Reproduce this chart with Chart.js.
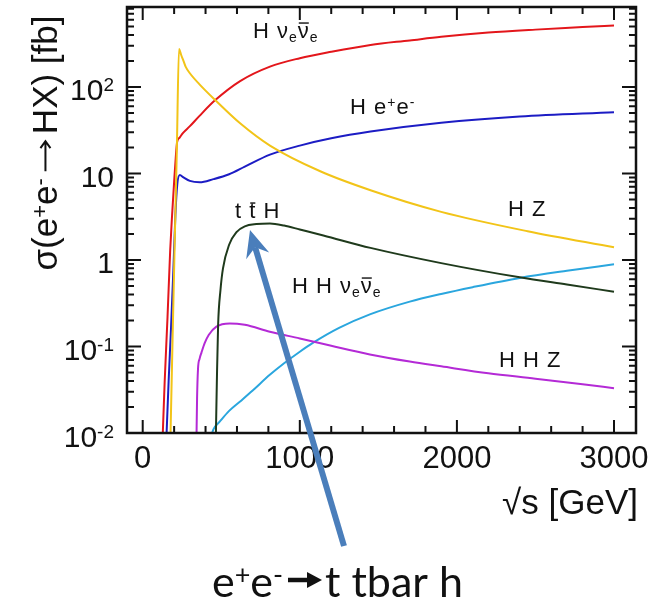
<!DOCTYPE html>
<html>
<head>
<meta charset="utf-8">
<script src="https://cdn.jsdelivr.net/npm/chart.js@4.4.1/dist/chart.umd.min.js"></script>
<style>
  html, body { margin: 0; padding: 0; background: #fff; }
  canvas { display: block; }
</style>
</head>
<body>
<canvas id="xsec" width="657" height="605"></canvas>
<script>
// sqrt(s) in GeV, cross sections in fb
const hvvX = [126, 140, 158, 175, 187, 200, 210, 219, 235, 257, 299, 360, 460, 620, 810, 1000, 1200, 1450, 1700, 1900, 2200, 2500, 2800, 3000];
const hvvY = [0.008, 0.04, 0.22, 1.3, 3.3, 8, 15, 23, 26, 29.5, 35, 46, 70, 117, 172, 215, 255, 306, 345, 380, 425, 460, 492, 515];

const heeX = [150, 165, 180, 195, 208, 220, 236, 260, 300, 363, 450, 550, 650, 810, 1000, 1200, 1450, 1900, 2400, 3000];
const heeY = [0.008, 0.04, 0.16, 0.75, 3.3, 7.5, 9.6, 9.0, 8.2, 7.9, 8.6, 9.8, 12, 16.5, 21, 25.5, 30.5, 38.5, 45.5, 51];

const hzX = [176, 190, 204, 217, 231, 245, 260, 273, 299, 360, 460, 620, 810, 1130, 1450, 1900, 2450, 3000];
const hzY = [0.008, 0.12, 1.7, 18, 275, 234, 199, 172, 145, 108, 71, 38, 21, 10.6, 6.4, 3.6, 2.15, 1.4];

const tthX = [465, 472, 480, 495, 511, 550, 597, 650, 724, 810, 900, 1000, 1150, 1450, 1900, 2400, 2700, 3000];
const tthY = [0.008, 0.04, 0.177, 0.45, 0.8, 1.5, 2.1, 2.45, 2.6, 2.64, 2.5, 2.25, 1.92, 1.38, 0.92, 0.63, 0.52, 0.43];

const hhvvX = [427, 450, 490, 550, 618, 700, 809, 900, 1000, 1083, 1250, 1446, 1700, 1900, 2100, 2400, 2700, 3000];
const hhvvY = [0.008, 0.011, 0.0135, 0.018, 0.023, 0.031, 0.047, 0.064, 0.087, 0.11, 0.164, 0.235, 0.33, 0.405, 0.485, 0.62, 0.75, 0.89];

const hhzX = [342, 346, 352, 362, 374, 395, 420, 469, 554, 650, 809, 1000, 1200, 1446, 1700, 1900, 2200, 2500, 2800, 3000];
const hhzY = [0.008, 0.025, 0.055, 0.072, 0.085, 0.11, 0.136, 0.17, 0.185, 0.178, 0.148, 0.124, 0.102, 0.081, 0.067, 0.059, 0.049, 0.0425, 0.0365, 0.033];

// axis ticks
const xTicks = [0, 1000, 2000, 3000];
const xTickLabels = ['0', '1000', '2000', '3000'];
const yTicks = [0.01, 0.1, 1, 10, 100];
const yTickLabels = [['10', '-2'], ['10', '-1'], ['1', ''], ['10', ''], ['10', '2']];

const SANS = '"Liberation Sans", Arial, sans-serif';
const CAPTION = 'Lato, "Open Sans", sans-serif';

function pts(xs, ys) {
  return xs.map((x, i) => ({ x: x, y: ys[i] }));
}

// parts: [text, mode]  mode 0 normal, 1 superscript, 2 subscript, 3 normal with bar over it
function richWidth(ctx, parts, size, family) {
  const small = Math.round(size * 0.62);
  let total = 0;
  parts.forEach(p => {
    ctx.font = ((p[1] === 1 || p[1] === 2) ? small : size) + 'px ' + family;
    total += ctx.measureText(p[0]).width;
  });
  return total;
}

function rich(ctx, parts, x, y, size, family, align) {
  const small = Math.round(size * 0.62);
  const fontOf = p => ((p[1] === 1 || p[1] === 2) ? small : size) + 'px ' + family;
  const total = richWidth(ctx, parts, size, family);
  let cx = align === 'right' ? x - total : align === 'center' ? x - total / 2 : x;
  parts.forEach(p => {
    ctx.font = fontOf(p);
    const w = ctx.measureText(p[0]).width;
    const dy = p[1] === 1 ? -size * 0.3 : p[1] === 2 ? size * 0.2 : 0;
    ctx.fillText(p[0], cx, y + dy);
    if (p[1] === 3) {
      ctx.beginPath();
      ctx.lineWidth = 1.4;
      ctx.moveTo(cx + 1, y - size * 0.68);
      ctx.lineTo(cx + w - 1, y - size * 0.68);
      ctx.stroke();
    }
    cx += w;
  });
  return cx;
}

const decor = {
  id: 'decor',
  afterDraw(chart) {
    const ctx = chart.ctx;
    const a = chart.chartArea;
    const xs = chart.scales.x;
    const ys = chart.scales.y;
    ctx.save();
    ctx.strokeStyle = '#111';
    ctx.fillStyle = '#111';
    ctx.textBaseline = 'alphabetic';

    // frame
    ctx.lineWidth = 2.5;
    ctx.strokeRect(a.left, a.top, a.right - a.left, a.bottom - a.top);

    // inward ticks, all four sides
    ctx.lineWidth = 2;
    ctx.beginPath();
    for (let v = 0; v <= 3000; v += 200) {
      const px = xs.getPixelForValue(v);
      const len = v % 1000 === 0 ? 13 : 7;
      ctx.moveTo(px, a.bottom); ctx.lineTo(px, a.bottom - len);
      ctx.moveTo(px, a.top); ctx.lineTo(px, a.top + len);
    }
    for (let d = -2; d <= 2; d++) {
      for (let m = 1; m <= 9; m++) {
        const v = m * Math.pow(10, d);
        if (v > ys.max) break;
        const py = ys.getPixelForValue(v);
        const len = m === 1 ? 14 : 7;
        ctx.moveTo(a.left, py); ctx.lineTo(a.left + len, py);
        ctx.moveTo(a.right, py); ctx.lineTo(a.right - len, py);
      }
    }
    ctx.stroke();

    // tick labels
    ctx.textAlign = 'left';
    xTicks.forEach((v, i) => {
      rich(ctx, [[xTickLabels[i], 0]], xs.getPixelForValue(v), 468, 31, SANS, 'center');
    });
    yTicks.forEach((v, i) => {
      const lab = yTickLabels[i];
      const parts = [[lab[0], 0]];
      if (lab[1]) parts.push([lab[1], 1]);
      rich(ctx, parts, 114, ys.getPixelForValue(v) + 13.5, 30, SANS, 'right');
    });

    // x title
    rich(ctx, [['\u221As [GeV]', 0]], 638, 514, 35, SANS, 'right');

    // y title, rotated; the arrow is drawn as a line
    ctx.save();
    ctx.translate(57, 143);
    ctx.rotate(-Math.PI / 2);
    const yLeft = [['\u03C3(e', 0], ['+', 1], ['e', 0], ['-', 1]];
    const yRight = [['HX) [fb]', 0]];
    const fs = 35, gap = 7, arrowLen = 30;
    const w1 = richWidth(ctx, yLeft, fs, SANS);
    const w2 = richWidth(ctx, yRight, fs, SANS);
    let sx = -(w1 + w2 + 2 * gap + arrowLen) / 2;
    rich(ctx, yLeft, sx, 0, fs, SANS, 'left');
    sx += w1 + gap;
    const ay = -fs * 0.33;
    ctx.lineWidth = 2;
    ctx.beginPath();
    ctx.moveTo(sx, ay); ctx.lineTo(sx + arrowLen, ay);
    ctx.moveTo(sx + arrowLen - 7, ay - 5); ctx.lineTo(sx + arrowLen, ay); ctx.lineTo(sx + arrowLen - 7, ay + 5);
    ctx.stroke();
    sx += arrowLen + gap;
    rich(ctx, yRight, sx, 0, fs, SANS, 'left');
    ctx.restore();

    // process labels
    ctx.letterSpacing = '1px';
    rich(ctx, [['H ', 0], ['\u03BD', 0], ['e', 2], ['\u03BD', 3], ['e', 2]], 253, 38, 22, SANS, 'left');
    rich(ctx, [['H e', 0], ['+', 1], ['e', 0], ['-', 1]], 350, 114, 22, SANS, 'left');
    rich(ctx, [['t ', 0], ['t', 3], [' H', 0]], 235, 218, 22, SANS, 'left');
    rich(ctx, [['H Z', 0]], 508, 216, 22, SANS, 'left');
    rich(ctx, [['H H ', 0], ['\u03BD', 0], ['e', 2], ['\u03BD', 3], ['e', 2]], 292, 293, 22, SANS, 'left');
    rich(ctx, [['H H Z', 0]], 499, 367, 22, SANS, 'left');
    ctx.letterSpacing = '0px';

    // annotation arrow
    const tip = { x: 250, y: 230 };
    const tail = { x: 344, y: 546 };
    const dx = tip.x - tail.x, dy = tip.y - tail.y;
    const L = Math.hypot(dx, dy);
    const ux = dx / L, uy = dy / L, nx = -uy, ny = ux;
    const headLen = 27, headW = 12, notch = 9;
    ctx.strokeStyle = '#4a7ebb';
    ctx.fillStyle = '#4a7ebb';
    ctx.lineWidth = 6;
    ctx.beginPath();
    ctx.moveTo(tail.x, tail.y);
    ctx.lineTo(tip.x - ux * (headLen - notch), tip.y - uy * (headLen - notch));
    ctx.stroke();
    ctx.beginPath();
    ctx.moveTo(tip.x, tip.y);
    ctx.lineTo(tip.x - ux * headLen + nx * headW, tip.y - uy * headLen + ny * headW);
    ctx.lineTo(tip.x - ux * (headLen - notch), tip.y - uy * (headLen - notch));
    ctx.lineTo(tip.x - ux * headLen - nx * headW, tip.y - uy * headLen - ny * headW);
    ctx.closePath();
    ctx.fill();

    // caption: e+e- -> t tbar h
    ctx.fillStyle = '#111';
    ctx.strokeStyle = '#111';
    const capY = 597;
    rich(ctx, [['e', 0], ['+', 1], ['e', 0], ['-', 1]], 212, capY, 43, CAPTION, 'left');
    ctx.lineWidth = 4.5;
    ctx.beginPath();
    ctx.moveTo(288, capY - 17);
    ctx.lineTo(310, capY - 17);
    ctx.stroke();
    ctx.beginPath();
    ctx.moveTo(322, capY - 17);
    ctx.lineTo(307, capY - 25);
    ctx.lineTo(307, capY - 9);
    ctx.closePath();
    ctx.fill();
    rich(ctx, [['t tbar h', 0]], 325, capY, 43, CAPTION, 'left');
    ctx.restore();
  }
};

function series(label, xsArr, ysArr, color) {
  return {
    label: label,
    data: pts(xsArr, ysArr),
    borderColor: color,
    borderWidth: 2,
    pointRadius: 0,
    fill: false,
    cubicInterpolationMode: 'monotone'
  };
}

new Chart(document.getElementById('xsec').getContext('2d'), {
  type: 'line',
  data: {
    datasets: [
      series('HZ', hzX, hzY, '#f2c418'),
      series('H nu nu', hvvX, hvvY, '#e3161b'),
      series('H e+e-', heeX, heeY, '#1c1cc4'),
      series('ttH', tthX, tthY, '#1f3a1c'),
      series('HHZ', hhzX, hhzY, '#b42ad6'),
      series('HH nu nu', hhvvX, hhvvY, '#2aa6de')
    ]
  },
  options: {
    responsive: false,
    animation: false,
    layout: { padding: { left: 127, top: 7, right: 21, bottom: 172 } },
    plugins: { legend: { display: false }, tooltip: { enabled: false }, title: { display: false } },
    scales: {
      x: { type: 'linear', min: -100, max: 3140, display: false },
      y: { type: 'logarithmic', min: 0.01, max: 840, display: false }
    }
  },
  plugins: [decor]
});
</script>
</body>
</html>
